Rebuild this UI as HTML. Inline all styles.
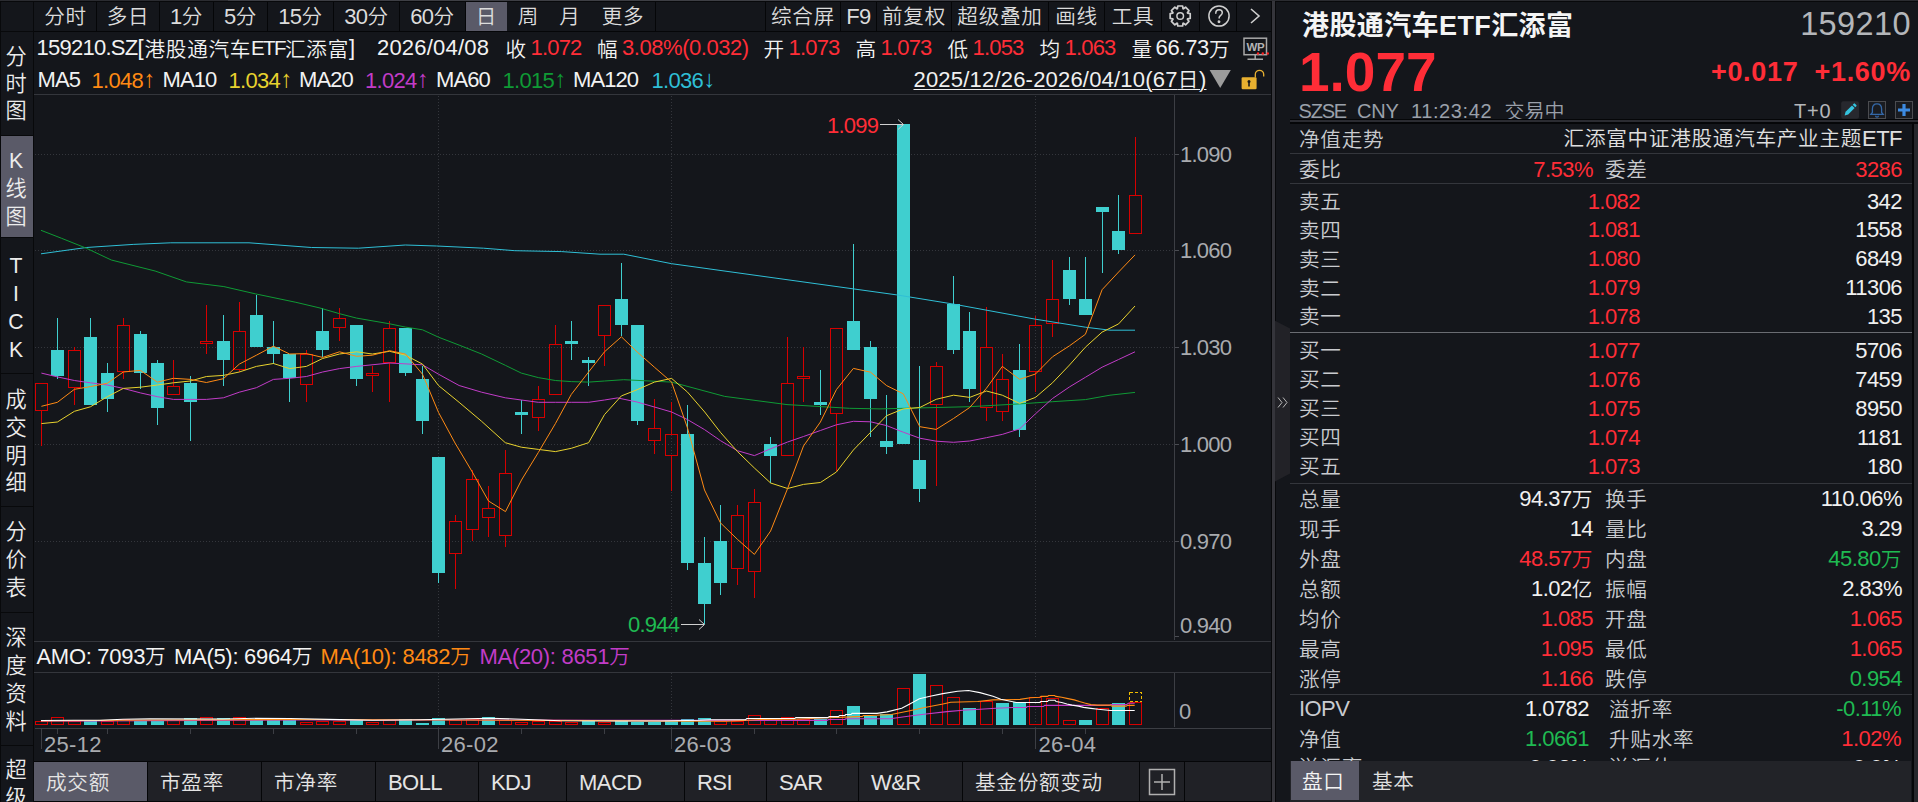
<!DOCTYPE html>
<html lang="zh-CN"><head><meta charset="utf-8"><title>159210 港股通汽车ETF汇添富</title>
<style>
html,body{margin:0;padding:0;background:#000;}
body{width:1918px;height:802px;overflow:hidden;position:relative;font-family:"Liberation Sans","Noto Sans CJK SC",sans-serif;color:#e6e6e6;font-size:21.33px;}
#app{position:absolute;left:0;top:0;width:1918px;height:802px;overflow:hidden;background:#08090b;}
.p{position:absolute;background:#14161b;}
.t{position:absolute;white-space:nowrap;line-height:28px;height:28px;}
.l{font-size:22px;letter-spacing:-0.55px}
.c{font-size:20.6px;letter-spacing:0.73px;font-weight:350}
.r{color:#ff2d37}.g{color:#1fba52}.w{color:#f2f2f2}.gy{color:#a9abaf}
.sb{position:absolute;left:1px;width:32px;background:#14161b;text-align:center;font-size:21.2px;font-weight:350;line-height:28px;color:#ececec;}
.sb span{display:block;position:absolute;left:-1px;width:32px;text-align:center;height:28px;}
.tab{position:absolute;top:2px;height:29px;line-height:29px;background:#14161b;text-align:center;color:#dcdcdc;}
.btab{position:absolute;top:762px;height:39px;line-height:41px;background:#202126;color:#e4e4e4;text-align:left;}
.sp{display:inline-block}
</style></head><body><div id="app">

<div style="position:absolute;left:0;top:0;width:1918px;height:1px;background:#2b2c31"></div><div style="position:absolute;left:228px;top:0;width:984px;height:1px;background:#3e3f45"></div>
<div class="p" style="left:34px;top:2px;width:1237px;height:800px"></div><div style="position:absolute;left:1272px;top:1px;width:3px;height:801px;background:#35353b"></div>
<div class="p" style="left:1276px;top:2px;width:642px;height:800px"></div>
<div class="sb" style="top:2px;height:29px;background:#14161b"></div>
<div class="sb" style="top:32px;height:103px;background:#14161b"><span style="top:11px">分</span><span style="top:38px">时</span><span style="top:65px">图</span></div>
<div class="sb" style="top:136px;height:101px;background:#5a5a68"><span style="top:11px">K</span><span style="top:39px">线</span><span style="top:67px">图</span></div>
<div class="sb" style="top:238px;height:135px;background:#14161b"><span style="top:14px">T</span><span style="top:42px">I</span><span style="top:70px">C</span><span style="top:98px">K</span></div>
<div class="sb" style="top:374px;height:132px;background:#14161b"><span style="top:12px">成</span><span style="top:40px">交</span><span style="top:68px">明</span><span style="top:95px">细</span></div>
<div class="sb" style="top:507px;height:105px;background:#14161b"><span style="top:11px">分</span><span style="top:39px">价</span><span style="top:67px">表</span></div>
<div class="sb" style="top:613px;height:132px;background:#14161b"><span style="top:11px">深</span><span style="top:39px">度</span><span style="top:67px">资</span><span style="top:95px">料</span></div>
<div class="sb" style="top:746px;height:56px;background:#14161b"><span style="top:10px">超</span><span style="top:38px">级</span></div>
<div class="tab c" style="left:35px;width:61px;background:#14161b">分时</div>
<div class="tab c" style="left:97px;width:62px;background:#14161b">多日</div>
<div class="tab l" style="left:160px;width:53px;background:#14161b">1<span class="c">分</span></div>
<div class="tab l" style="left:214px;width:53px;background:#14161b">5<span class="c">分</span></div>
<div class="tab l" style="left:268px;width:65px;background:#14161b">15<span class="c">分</span></div>
<div class="tab l" style="left:334px;width:65px;background:#14161b">30<span class="c">分</span></div>
<div class="tab l" style="left:400px;width:65px;background:#14161b">60<span class="c">分</span></div>
<div class="tab c" style="left:466px;width:41px;background:#5a5a68">日</div>
<div class="tab c" style="left:508px;width:41px;background:#14161b">周</div>
<div class="tab c" style="left:550px;width:40px;background:#14161b">月</div>
<div class="tab c" style="left:591px;width:64px;background:#14161b">更多</div>
<div style="position:absolute;left:96px;top:2px;width:1px;height:29px;background:#050608"></div>
<div style="position:absolute;left:159px;top:2px;width:1px;height:29px;background:#050608"></div>
<div style="position:absolute;left:213px;top:2px;width:1px;height:29px;background:#050608"></div>
<div style="position:absolute;left:267px;top:2px;width:1px;height:29px;background:#050608"></div>
<div style="position:absolute;left:333px;top:2px;width:1px;height:29px;background:#050608"></div>
<div style="position:absolute;left:399px;top:2px;width:1px;height:29px;background:#050608"></div>
<div style="position:absolute;left:465px;top:2px;width:1px;height:29px;background:#050608"></div>
<div style="position:absolute;left:655px;top:2px;width:1px;height:29px;background:#050608"></div>
<div class="tab c" style="left:766px;width:74px">综合屏</div>
<div class="tab l" style="left:841px;width:35px">F9</div>
<div class="tab c" style="left:877px;width:74px">前复权</div>
<div class="tab c" style="left:952px;width:96px">超级叠加</div>
<div class="tab c" style="left:1049px;width:55px">画线</div>
<div class="tab c" style="left:1105px;width:56px">工具</div>
<div style="position:absolute;left:765px;top:2px;width:1px;height:29px;background:#050608"></div>
<div style="position:absolute;left:840px;top:2px;width:1px;height:29px;background:#050608"></div>
<div style="position:absolute;left:876px;top:2px;width:1px;height:29px;background:#050608"></div>
<div style="position:absolute;left:951px;top:2px;width:1px;height:29px;background:#050608"></div>
<div style="position:absolute;left:1048px;top:2px;width:1px;height:29px;background:#050608"></div>
<div style="position:absolute;left:1104px;top:2px;width:1px;height:29px;background:#050608"></div>
<div style="position:absolute;left:1161px;top:2px;width:1px;height:29px;background:#050608"></div>
<svg style="position:absolute;left:1162px;top:2px" width="110" height="29" viewBox="0 0 110 29" fill="none" stroke="#cfcfcf" stroke-width="1.5">
<circle cx="18.2" cy="14" r="3.3"/><path d="M15.41 6.61 L15.80 3.98 L20.60 3.98 L20.99 6.61 L21.45 6.80 L23.58 5.22 L26.98 8.62 L25.40 10.75 L25.59 11.21 L28.22 11.60 L28.22 16.40 L25.59 16.79 L25.40 17.25 L26.98 19.38 L23.58 22.78 L21.45 21.20 L20.99 21.39 L20.60 24.02 L15.80 24.02 L15.41 21.39 L14.95 21.20 L12.82 22.78 L9.42 19.38 L11.00 17.25 L10.81 16.79 L8.18 16.40 L8.18 11.60 L10.81 11.21 L11.00 10.75 L9.42 8.62 L12.82 5.22 L14.95 6.80Z" stroke-linejoin="round" stroke-width="1.7"/>
<g transform="translate(57,14)"><circle r="10.1"/><path d="M-3.2-2.8c0-2.200 1.400-3.400 3.300-3.400s3.200 1.200 3.200 2.900c0 2.600-3.200 2.600-3.200 5.200" stroke-linecap="round"/><circle cy="5.800" r="0.700" fill="#cfcfcf"/></g>
<path d="M89 7l8 7-8 7" stroke-width="1.600"/>
</svg>
<div style="position:absolute;left:1199px;top:2px;width:1px;height:29px;background:#050608"></div>
<div style="position:absolute;left:1236px;top:2px;width:1px;height:29px;background:#050608"></div>
<div style="position:absolute;left:34px;top:31px;width:1237px;height:1px;background:#050608"></div>
<div class="t l w" style="left:36.5px;top:33.8px;letter-spacing:-0.75px;">159210.SZ[</div>
<div class="t c w" style="left:144.5px;top:35.8px;">港股通汽车</div>
<div class="t l w" style="left:251px;top:33.8px;font-size:20.5px;letter-spacing:-1.6px">ETF</div>
<div class="t l w" style="left:285px;top:33.8px;letter-spacing:-2px;"><span class="c" style="position:relative;top:2px">汇添富</span>]</div>
<div class="t l w" style="left:377px;top:33.8px;letter-spacing:0.2px;">2026/04/08</div>
<div class="t c w" style="left:505.5px;top:35.8px;">收</div>
<div class="t l r" style="left:530.5px;top:33.8px;letter-spacing:-0.8px;">1.072</div>
<div class="t c w" style="left:763.5px;top:35.8px;">开</div>
<div class="t l r" style="left:788.5px;top:33.8px;letter-spacing:-0.8px;">1.073</div>
<div class="t c w" style="left:855.5px;top:35.8px;">高</div>
<div class="t l r" style="left:880.5px;top:33.8px;letter-spacing:-0.8px;">1.073</div>
<div class="t c w" style="left:947.5px;top:35.8px;">低</div>
<div class="t l r" style="left:972.5px;top:33.8px;letter-spacing:-0.8px;">1.053</div>
<div class="t c w" style="left:1039.5px;top:35.8px;">均</div>
<div class="t l r" style="left:1064.5px;top:33.8px;letter-spacing:-0.8px;">1.063</div>
<div class="t c w" style="left:597px;top:35.8px;">幅</div>
<div class="t l r" style="left:622px;top:33.8px;letter-spacing:-0.45px;">3.08%(0.032)</div>
<div class="t c w" style="left:1131.5px;top:35.8px;">量</div>
<div class="t l w" style="left:1155.5px;top:33.8px;letter-spacing:-0.3px;">66.73<span class="c" style="position:relative;top:2px">万</span></div>
<div class="t l w" style="left:37.5px;top:66px;letter-spacing:-0.9px;">MA5</div>
<div class="t l" style="left:91.5px;top:66px;color:#ff8a14;letter-spacing:-0.7px">1.048<span class="sp" style="width:12px;text-align:center;font-size:24px;position:relative;top:-1px">↑</span></div>
<div class="t l w" style="left:162.5px;top:66px;letter-spacing:-0.9px;">MA10</div>
<div class="t l" style="left:228.5px;top:66px;color:#e8d22e;letter-spacing:-0.7px">1.034<span class="sp" style="width:12px;text-align:center;font-size:24px;position:relative;top:-1px">↑</span></div>
<div class="t l w" style="left:299px;top:66px;letter-spacing:-0.9px;">MA20</div>
<div class="t l" style="left:365px;top:66px;color:#c23cc8;letter-spacing:-0.7px">1.024<span class="sp" style="width:12px;text-align:center;font-size:24px;position:relative;top:-1px">↑</span></div>
<div class="t l w" style="left:436px;top:66px;letter-spacing:-0.9px;">MA60</div>
<div class="t l" style="left:502.5px;top:66px;color:#0f9a35;letter-spacing:-0.7px">1.015<span class="sp" style="width:12px;text-align:center;font-size:24px;position:relative;top:-1px">↑</span></div>
<div class="t l w" style="left:573px;top:66px;letter-spacing:-0.9px;">MA120</div>
<div class="t l" style="left:651.5px;top:66px;color:#2fbfd6;letter-spacing:-0.7px">1.036<span class="sp" style="width:12px;text-align:center;font-size:24px;position:relative;top:-1px">↓</span></div>
<div class="t l" style="left:913.5px;top:66px;color:#f0f0f0;text-decoration:underline;text-decoration-thickness:1px;text-underline-offset:1.5px;letter-spacing:0.2px">2025/12/26-2026/04/10(67<span class="c">日</span>)</div>
<svg style="position:absolute;left:1209px;top:69px" width="24" height="22"><path d="M0.600 1h21.200l-10.600 18z" fill="#9c9c9c"/></svg>
<svg style="position:absolute;left:1240px;top:34px" width="32" height="62" viewBox="0 0 32 62" fill="none">
<rect x="4" y="4.200" width="22.500" height="16.500" stroke="#a8a8a8" stroke-width="1.500"/><path d="M15.200 21v4M7.500 25.200h15.500" stroke="#a8a8a8" stroke-width="1.500"/>
<text x="15.300" y="17" font-family="Liberation Sans,sans-serif" font-weight="bold" font-size="11.500" fill="#b4b4b4" text-anchor="middle" letter-spacing="-0.500">WP</text>
<circle cx="18" cy="19.500" r="1.200" fill="#ff2020"/><circle cx="22.800" cy="19.500" r="1.200" fill="#ff2020"/><circle cx="27.800" cy="19.500" r="1.200" fill="#ff2020"/>
<rect x="1.600" y="43.300" width="15" height="12" rx="1.200" fill="#e8b030"/><path d="M15.300 43.500v-3a4.200 4.200 0 0 1 8.400 0v2" stroke="#e8b030" stroke-width="1.300"/><circle cx="9" cy="47.500" r="1.500" fill="#1a1a1a"/><rect x="8.200" y="47.500" width="1.600" height="5" fill="#1a1a1a"/>
</svg>
<div style="position:absolute;left:34px;top:94px;width:1237px;height:1px;background:#34363c"></div>
<svg id="chart" width="1918" height="802" viewBox="0 0 1918 802" style="position:absolute;left:0;top:0" shape-rendering="crispEdges">
<line x1="35" y1="154.5" x2="1174" y2="154.5" stroke="#34363c" stroke-width="1" stroke-dasharray="1 2"/>
<line x1="1175" y1="154.5" x2="1179" y2="154.5" stroke="#4a4c52" stroke-width="1"/>
<line x1="35" y1="250.5" x2="1174" y2="250.5" stroke="#34363c" stroke-width="1" stroke-dasharray="1 2"/>
<line x1="1175" y1="250.5" x2="1179" y2="250.5" stroke="#4a4c52" stroke-width="1"/>
<line x1="35" y1="347.5" x2="1174" y2="347.5" stroke="#34363c" stroke-width="1" stroke-dasharray="1 2"/>
<line x1="1175" y1="347.5" x2="1179" y2="347.5" stroke="#4a4c52" stroke-width="1"/>
<line x1="35" y1="444.5" x2="1174" y2="444.5" stroke="#34363c" stroke-width="1" stroke-dasharray="1 2"/>
<line x1="1175" y1="444.5" x2="1179" y2="444.5" stroke="#4a4c52" stroke-width="1"/>
<line x1="35" y1="541.5" x2="1174" y2="541.5" stroke="#34363c" stroke-width="1" stroke-dasharray="1 2"/>
<line x1="1175" y1="541.5" x2="1179" y2="541.5" stroke="#4a4c52" stroke-width="1"/>
<line x1="438.5" y1="96" x2="438.5" y2="638" stroke="#34363c" stroke-width="1" stroke-dasharray="1 2"/>
<line x1="438.5" y1="673" x2="438.5" y2="728" stroke="#34363c" stroke-width="1" stroke-dasharray="1 2"/>
<line x1="671.5" y1="96" x2="671.5" y2="638" stroke="#34363c" stroke-width="1" stroke-dasharray="1 2"/>
<line x1="671.5" y1="673" x2="671.5" y2="728" stroke="#34363c" stroke-width="1" stroke-dasharray="1 2"/>
<line x1="1035.5" y1="96" x2="1035.5" y2="638" stroke="#34363c" stroke-width="1" stroke-dasharray="1 2"/>
<line x1="1035.5" y1="673" x2="1035.5" y2="728" stroke="#34363c" stroke-width="1" stroke-dasharray="1 2"/>
<line x1="1174.5" y1="95" x2="1174.5" y2="640" stroke="#3c3e44" stroke-width="1"/>
<line x1="1174.5" y1="673" x2="1174.5" y2="727" stroke="#3c3e44" stroke-width="1"/>
<line x1="1175" y1="636.5" x2="1179" y2="636.5" stroke="#4a4c52" stroke-width="1"/>
<line x1="41.5" y1="411" x2="41.5" y2="446" stroke="#d60000" stroke-width="1"/>
<rect x="35.5" y="383.5" width="12" height="27" fill="none" stroke="#d60000" stroke-width="1"/>
<line x1="57.5" y1="318" x2="57.5" y2="379" stroke="#3fcfcf" stroke-width="1"/>
<rect x="51" y="350" width="13" height="26" fill="#3fcfcf"/>
<line x1="74.5" y1="347" x2="74.5" y2="350" stroke="#d60000" stroke-width="1"/>
<line x1="74.5" y1="388" x2="74.5" y2="405" stroke="#d60000" stroke-width="1"/>
<rect x="68.5" y="350.5" width="12" height="37" fill="none" stroke="#d60000" stroke-width="1"/>
<line x1="90.5" y1="318" x2="90.5" y2="405" stroke="#3fcfcf" stroke-width="1"/>
<rect x="84" y="337" width="13" height="68" fill="#3fcfcf"/>
<line x1="107.5" y1="363" x2="107.5" y2="412" stroke="#3fcfcf" stroke-width="1"/>
<rect x="101" y="373" width="13" height="26" fill="#3fcfcf"/>
<line x1="123.5" y1="318" x2="123.5" y2="325" stroke="#d60000" stroke-width="1"/>
<line x1="123.5" y1="372" x2="123.5" y2="379" stroke="#d60000" stroke-width="1"/>
<rect x="117.5" y="325.5" width="12" height="46" fill="none" stroke="#d60000" stroke-width="1"/>
<line x1="140.5" y1="331" x2="140.5" y2="389" stroke="#3fcfcf" stroke-width="1"/>
<rect x="134" y="334" width="13" height="39" fill="#3fcfcf"/>
<line x1="157.5" y1="360" x2="157.5" y2="425" stroke="#3fcfcf" stroke-width="1"/>
<rect x="151" y="363" width="13" height="45" fill="#3fcfcf"/>
<line x1="173.5" y1="360" x2="173.5" y2="386" stroke="#d60000" stroke-width="1"/>
<rect x="167.5" y="386.5" width="12" height="8" fill="none" stroke="#d60000" stroke-width="1"/>
<line x1="190.5" y1="376" x2="190.5" y2="441" stroke="#3fcfcf" stroke-width="1"/>
<rect x="184" y="383" width="13" height="19" fill="#3fcfcf"/>
<line x1="206.5" y1="305" x2="206.5" y2="341" stroke="#d60000" stroke-width="1"/>
<line x1="206.5" y1="344" x2="206.5" y2="354" stroke="#d60000" stroke-width="1"/>
<rect x="200.5" y="341.5" width="12" height="2" fill="none" stroke="#d60000" stroke-width="1"/>
<line x1="223.5" y1="315" x2="223.5" y2="386" stroke="#3fcfcf" stroke-width="1"/>
<rect x="217" y="341" width="13" height="19" fill="#3fcfcf"/>
<line x1="239.5" y1="302" x2="239.5" y2="331" stroke="#d60000" stroke-width="1"/>
<line x1="239.5" y1="370" x2="239.5" y2="372" stroke="#d60000" stroke-width="1"/>
<rect x="233.5" y="331.5" width="12" height="38" fill="none" stroke="#d60000" stroke-width="1"/>
<line x1="256.5" y1="295" x2="256.5" y2="347" stroke="#3fcfcf" stroke-width="1"/>
<rect x="250" y="315" width="13" height="32" fill="#3fcfcf"/>
<line x1="273.5" y1="321" x2="273.5" y2="364" stroke="#3fcfcf" stroke-width="1"/>
<rect x="267" y="347" width="13" height="7" fill="#3fcfcf"/>
<line x1="289.5" y1="354" x2="289.5" y2="402" stroke="#3fcfcf" stroke-width="1"/>
<rect x="283" y="354" width="13" height="24" fill="#3fcfcf"/>
<line x1="306.5" y1="350" x2="306.5" y2="354" stroke="#d60000" stroke-width="1"/>
<line x1="306.5" y1="385" x2="306.5" y2="402" stroke="#d60000" stroke-width="1"/>
<rect x="300.5" y="354.5" width="12" height="30" fill="none" stroke="#d60000" stroke-width="1"/>
<line x1="322.5" y1="308" x2="322.5" y2="357" stroke="#3fcfcf" stroke-width="1"/>
<rect x="316" y="331" width="13" height="19" fill="#3fcfcf"/>
<line x1="339.5" y1="308" x2="339.5" y2="318" stroke="#d60000" stroke-width="1"/>
<line x1="339.5" y1="328" x2="339.5" y2="341" stroke="#d60000" stroke-width="1"/>
<rect x="333.5" y="318.5" width="12" height="9" fill="none" stroke="#d60000" stroke-width="1"/>
<line x1="356.5" y1="325" x2="356.5" y2="386" stroke="#3fcfcf" stroke-width="1"/>
<rect x="350" y="325" width="13" height="54" fill="#3fcfcf"/>
<line x1="372.5" y1="366" x2="372.5" y2="373" stroke="#d60000" stroke-width="1"/>
<line x1="372.5" y1="376" x2="372.5" y2="392" stroke="#d60000" stroke-width="1"/>
<rect x="366.5" y="373.5" width="12" height="2" fill="none" stroke="#d60000" stroke-width="1"/>
<line x1="389.5" y1="321" x2="389.5" y2="328" stroke="#d60000" stroke-width="1"/>
<line x1="389.5" y1="363" x2="389.5" y2="402" stroke="#d60000" stroke-width="1"/>
<rect x="383.5" y="328.5" width="12" height="34" fill="none" stroke="#d60000" stroke-width="1"/>
<line x1="405.5" y1="328" x2="405.5" y2="376" stroke="#3fcfcf" stroke-width="1"/>
<rect x="399" y="328" width="13" height="45" fill="#3fcfcf"/>
<line x1="422.5" y1="366" x2="422.5" y2="434" stroke="#3fcfcf" stroke-width="1"/>
<rect x="416" y="379" width="13" height="42" fill="#3fcfcf"/>
<line x1="438.5" y1="457" x2="438.5" y2="583" stroke="#3fcfcf" stroke-width="1"/>
<rect x="432" y="457" width="13" height="116" fill="#3fcfcf"/>
<line x1="455.5" y1="515" x2="455.5" y2="521" stroke="#d60000" stroke-width="1"/>
<line x1="455.5" y1="554" x2="455.5" y2="589" stroke="#d60000" stroke-width="1"/>
<rect x="449.5" y="521.5" width="12" height="32" fill="none" stroke="#d60000" stroke-width="1"/>
<line x1="472.5" y1="470" x2="472.5" y2="479" stroke="#d60000" stroke-width="1"/>
<line x1="472.5" y1="530" x2="472.5" y2="541" stroke="#d60000" stroke-width="1"/>
<rect x="466.5" y="479.5" width="12" height="50" fill="none" stroke="#d60000" stroke-width="1"/>
<line x1="488.5" y1="486" x2="488.5" y2="508" stroke="#d60000" stroke-width="1"/>
<line x1="488.5" y1="518" x2="488.5" y2="537" stroke="#d60000" stroke-width="1"/>
<rect x="482.5" y="508.5" width="12" height="9" fill="none" stroke="#d60000" stroke-width="1"/>
<line x1="505.5" y1="450" x2="505.5" y2="473" stroke="#d60000" stroke-width="1"/>
<line x1="505.5" y1="536" x2="505.5" y2="547" stroke="#d60000" stroke-width="1"/>
<rect x="499.5" y="473.5" width="12" height="62" fill="none" stroke="#d60000" stroke-width="1"/>
<line x1="521.5" y1="400" x2="521.5" y2="434" stroke="#3fcfcf" stroke-width="1"/>
<rect x="515" y="412" width="13" height="3" fill="#3fcfcf"/>
<line x1="538.5" y1="386" x2="538.5" y2="399" stroke="#d60000" stroke-width="1"/>
<line x1="538.5" y1="418" x2="538.5" y2="431" stroke="#d60000" stroke-width="1"/>
<rect x="532.5" y="399.5" width="12" height="18" fill="none" stroke="#d60000" stroke-width="1"/>
<line x1="555.5" y1="325" x2="555.5" y2="344" stroke="#d60000" stroke-width="1"/>
<rect x="549.5" y="344.5" width="12" height="50" fill="none" stroke="#d60000" stroke-width="1"/>
<line x1="571.5" y1="321" x2="571.5" y2="360" stroke="#3fcfcf" stroke-width="1"/>
<rect x="565" y="341" width="13" height="3" fill="#3fcfcf"/>
<line x1="588.5" y1="357" x2="588.5" y2="386" stroke="#3fcfcf" stroke-width="1"/>
<rect x="582" y="360" width="13" height="3" fill="#3fcfcf"/>
<line x1="604.5" y1="336" x2="604.5" y2="366" stroke="#d60000" stroke-width="1"/>
<rect x="598.5" y="305.5" width="12" height="30" fill="none" stroke="#d60000" stroke-width="1"/>
<line x1="621.5" y1="263" x2="621.5" y2="336" stroke="#3fcfcf" stroke-width="1"/>
<rect x="615" y="299" width="13" height="26" fill="#3fcfcf"/>
<line x1="637.5" y1="325" x2="637.5" y2="425" stroke="#3fcfcf" stroke-width="1"/>
<rect x="631" y="325" width="13" height="96" fill="#3fcfcf"/>
<line x1="654.5" y1="399" x2="654.5" y2="428" stroke="#d60000" stroke-width="1"/>
<line x1="654.5" y1="441" x2="654.5" y2="454" stroke="#d60000" stroke-width="1"/>
<rect x="648.5" y="428.5" width="12" height="12" fill="none" stroke="#d60000" stroke-width="1"/>
<line x1="671.5" y1="402" x2="671.5" y2="434" stroke="#d60000" stroke-width="1"/>
<line x1="671.5" y1="456" x2="671.5" y2="491" stroke="#d60000" stroke-width="1"/>
<rect x="665.5" y="434.5" width="12" height="21" fill="none" stroke="#d60000" stroke-width="1"/>
<line x1="687.5" y1="405" x2="687.5" y2="570" stroke="#3fcfcf" stroke-width="1"/>
<rect x="681" y="434" width="13" height="129" fill="#3fcfcf"/>
<line x1="704.5" y1="537" x2="704.5" y2="624" stroke="#3fcfcf" stroke-width="1"/>
<rect x="698" y="563" width="13" height="41" fill="#3fcfcf"/>
<line x1="720.5" y1="505" x2="720.5" y2="595" stroke="#3fcfcf" stroke-width="1"/>
<rect x="714" y="541" width="13" height="42" fill="#3fcfcf"/>
<line x1="737.5" y1="505" x2="737.5" y2="515" stroke="#d60000" stroke-width="1"/>
<line x1="737.5" y1="569" x2="737.5" y2="585" stroke="#d60000" stroke-width="1"/>
<rect x="731.5" y="515.5" width="12" height="53" fill="none" stroke="#d60000" stroke-width="1"/>
<line x1="754.5" y1="489" x2="754.5" y2="502" stroke="#d60000" stroke-width="1"/>
<line x1="754.5" y1="572" x2="754.5" y2="598" stroke="#d60000" stroke-width="1"/>
<rect x="748.5" y="502.5" width="12" height="69" fill="none" stroke="#d60000" stroke-width="1"/>
<line x1="770.5" y1="437" x2="770.5" y2="483" stroke="#3fcfcf" stroke-width="1"/>
<rect x="764" y="444" width="13" height="12" fill="#3fcfcf"/>
<line x1="787.5" y1="337" x2="787.5" y2="383" stroke="#d60000" stroke-width="1"/>
<rect x="781.5" y="383.5" width="12" height="72" fill="none" stroke="#d60000" stroke-width="1"/>
<line x1="803.5" y1="347" x2="803.5" y2="376" stroke="#d60000" stroke-width="1"/>
<line x1="803.5" y1="379" x2="803.5" y2="402" stroke="#d60000" stroke-width="1"/>
<rect x="797.5" y="376.5" width="12" height="2" fill="none" stroke="#d60000" stroke-width="1"/>
<line x1="820.5" y1="370" x2="820.5" y2="415" stroke="#3fcfcf" stroke-width="1"/>
<rect x="814" y="402" width="13" height="3" fill="#3fcfcf"/>
<line x1="836.5" y1="414" x2="836.5" y2="471" stroke="#d60000" stroke-width="1"/>
<rect x="830.5" y="328.5" width="12" height="85" fill="none" stroke="#d60000" stroke-width="1"/>
<line x1="853.5" y1="244" x2="853.5" y2="350" stroke="#3fcfcf" stroke-width="1"/>
<rect x="847" y="321" width="13" height="29" fill="#3fcfcf"/>
<line x1="870.5" y1="341" x2="870.5" y2="437" stroke="#3fcfcf" stroke-width="1"/>
<rect x="864" y="347" width="13" height="52" fill="#3fcfcf"/>
<line x1="886.5" y1="395" x2="886.5" y2="454" stroke="#3fcfcf" stroke-width="1"/>
<rect x="880" y="441" width="13" height="6" fill="#3fcfcf"/>
<line x1="903.5" y1="124" x2="903.5" y2="444" stroke="#3fcfcf" stroke-width="1"/>
<rect x="897" y="124" width="13" height="320" fill="#3fcfcf"/>
<line x1="919.5" y1="366" x2="919.5" y2="502" stroke="#3fcfcf" stroke-width="1"/>
<rect x="913" y="460" width="13" height="29" fill="#3fcfcf"/>
<line x1="936.5" y1="362" x2="936.5" y2="366" stroke="#d60000" stroke-width="1"/>
<line x1="936.5" y1="405" x2="936.5" y2="486" stroke="#d60000" stroke-width="1"/>
<rect x="930.5" y="366.5" width="12" height="38" fill="none" stroke="#d60000" stroke-width="1"/>
<line x1="953.5" y1="276" x2="953.5" y2="354" stroke="#3fcfcf" stroke-width="1"/>
<rect x="947" y="304" width="13" height="46" fill="#3fcfcf"/>
<line x1="969.5" y1="312" x2="969.5" y2="402" stroke="#3fcfcf" stroke-width="1"/>
<rect x="963" y="331" width="13" height="58" fill="#3fcfcf"/>
<line x1="986.5" y1="307" x2="986.5" y2="347" stroke="#d60000" stroke-width="1"/>
<line x1="986.5" y1="408" x2="986.5" y2="421" stroke="#d60000" stroke-width="1"/>
<rect x="980.5" y="347.5" width="12" height="60" fill="none" stroke="#d60000" stroke-width="1"/>
<line x1="1002.5" y1="354" x2="1002.5" y2="379" stroke="#d60000" stroke-width="1"/>
<line x1="1002.5" y1="412" x2="1002.5" y2="421" stroke="#d60000" stroke-width="1"/>
<rect x="996.5" y="379.5" width="12" height="32" fill="none" stroke="#d60000" stroke-width="1"/>
<line x1="1019.5" y1="344" x2="1019.5" y2="437" stroke="#3fcfcf" stroke-width="1"/>
<rect x="1013" y="370" width="13" height="60" fill="#3fcfcf"/>
<line x1="1035.5" y1="316" x2="1035.5" y2="325" stroke="#d60000" stroke-width="1"/>
<line x1="1035.5" y1="372" x2="1035.5" y2="392" stroke="#d60000" stroke-width="1"/>
<rect x="1029.5" y="325.5" width="12" height="46" fill="none" stroke="#d60000" stroke-width="1"/>
<line x1="1052.5" y1="260" x2="1052.5" y2="299" stroke="#d60000" stroke-width="1"/>
<line x1="1052.5" y1="324" x2="1052.5" y2="337" stroke="#d60000" stroke-width="1"/>
<rect x="1046.5" y="299.5" width="12" height="24" fill="none" stroke="#d60000" stroke-width="1"/>
<line x1="1069.5" y1="257" x2="1069.5" y2="305" stroke="#3fcfcf" stroke-width="1"/>
<rect x="1063" y="270" width="13" height="29" fill="#3fcfcf"/>
<line x1="1085.5" y1="257" x2="1085.5" y2="315" stroke="#3fcfcf" stroke-width="1"/>
<rect x="1079" y="299" width="13" height="16" fill="#3fcfcf"/>
<line x1="1102.5" y1="207" x2="1102.5" y2="273" stroke="#3fcfcf" stroke-width="1"/>
<rect x="1096" y="207" width="13" height="5" fill="#3fcfcf"/>
<line x1="1118.5" y1="195" x2="1118.5" y2="254" stroke="#3fcfcf" stroke-width="1"/>
<rect x="1112" y="231" width="13" height="19" fill="#3fcfcf"/>
<line x1="1135.5" y1="137" x2="1135.5" y2="195" stroke="#d60000" stroke-width="1"/>
<rect x="1129.5" y="195.5" width="12" height="38" fill="none" stroke="#d60000" stroke-width="1"/>
<rect x="35.5" y="721.5" width="12" height="3" fill="none" stroke="#d60000" stroke-width="1"/>
<rect x="51.5" y="717.5" width="12" height="7" fill="none" stroke="#d60000" stroke-width="1"/>
<rect x="68.5" y="721.5" width="12" height="3" fill="none" stroke="#d60000" stroke-width="1"/>
<rect x="84" y="721" width="13" height="4" fill="#3fcfcf"/>
<rect x="101.5" y="721.5" width="12" height="3" fill="none" stroke="#d60000" stroke-width="1"/>
<rect x="117.5" y="719.5" width="12" height="5" fill="none" stroke="#d60000" stroke-width="1"/>
<rect x="134" y="721" width="13" height="4" fill="#3fcfcf"/>
<rect x="151" y="721" width="13" height="4" fill="#3fcfcf"/>
<rect x="167.5" y="720.5" width="12" height="4" fill="none" stroke="#d60000" stroke-width="1"/>
<rect x="184" y="718" width="13" height="7" fill="#3fcfcf"/>
<rect x="200.5" y="717.5" width="12" height="7" fill="none" stroke="#d60000" stroke-width="1"/>
<rect x="217" y="718" width="13" height="7" fill="#3fcfcf"/>
<rect x="233.5" y="717.5" width="12" height="7" fill="none" stroke="#d60000" stroke-width="1"/>
<rect x="250" y="720" width="13" height="5" fill="#3fcfcf"/>
<rect x="267" y="720" width="13" height="5" fill="#3fcfcf"/>
<rect x="283" y="720" width="13" height="5" fill="#3fcfcf"/>
<rect x="300.5" y="722.5" width="12" height="2" fill="none" stroke="#d60000" stroke-width="1"/>
<rect x="316.5" y="721.5" width="12" height="3" fill="none" stroke="#d60000" stroke-width="1"/>
<rect x="333.5" y="721.5" width="12" height="3" fill="none" stroke="#d60000" stroke-width="1"/>
<rect x="350" y="720" width="13" height="5" fill="#3fcfcf"/>
<rect x="366.5" y="722.5" width="12" height="2" fill="none" stroke="#d60000" stroke-width="1"/>
<rect x="383.5" y="720.5" width="12" height="4" fill="none" stroke="#d60000" stroke-width="1"/>
<rect x="399" y="719" width="13" height="6" fill="#3fcfcf"/>
<rect x="416" y="723" width="13" height="2" fill="#3fcfcf"/>
<rect x="432" y="718" width="13" height="7" fill="#3fcfcf"/>
<rect x="449.5" y="720.5" width="12" height="4" fill="none" stroke="#d60000" stroke-width="1"/>
<rect x="466.5" y="719.5" width="12" height="5" fill="none" stroke="#d60000" stroke-width="1"/>
<rect x="482" y="717" width="13" height="8" fill="#3fcfcf"/>
<rect x="499.5" y="720.5" width="12" height="4" fill="none" stroke="#d60000" stroke-width="1"/>
<rect x="515.5" y="722.5" width="12" height="2" fill="none" stroke="#d60000" stroke-width="1"/>
<rect x="532.5" y="721.5" width="12" height="3" fill="none" stroke="#d60000" stroke-width="1"/>
<rect x="549.5" y="721.5" width="12" height="3" fill="none" stroke="#d60000" stroke-width="1"/>
<rect x="565.5" y="722.5" width="12" height="2" fill="none" stroke="#d60000" stroke-width="1"/>
<rect x="582" y="721" width="13" height="4" fill="#3fcfcf"/>
<rect x="598.5" y="722.5" width="12" height="2" fill="none" stroke="#d60000" stroke-width="1"/>
<rect x="615" y="721" width="13" height="4" fill="#3fcfcf"/>
<rect x="631" y="722" width="13" height="3" fill="#3fcfcf"/>
<rect x="648" y="722" width="13" height="3" fill="#3fcfcf"/>
<rect x="665" y="721" width="13" height="4" fill="#3fcfcf"/>
<rect x="681" y="719" width="13" height="6" fill="#3fcfcf"/>
<rect x="698" y="718" width="13" height="7" fill="#3fcfcf"/>
<rect x="714.5" y="721.5" width="12" height="3" fill="none" stroke="#d60000" stroke-width="1"/>
<rect x="731.5" y="721.5" width="12" height="3" fill="none" stroke="#d60000" stroke-width="1"/>
<rect x="748.5" y="715.5" width="12" height="9" fill="none" stroke="#d60000" stroke-width="1"/>
<rect x="764.5" y="720.5" width="12" height="4" fill="none" stroke="#d60000" stroke-width="1"/>
<rect x="781.5" y="717.5" width="12" height="7" fill="none" stroke="#d60000" stroke-width="1"/>
<rect x="797.5" y="719.5" width="12" height="5" fill="none" stroke="#d60000" stroke-width="1"/>
<rect x="814" y="719" width="13" height="6" fill="#3fcfcf"/>
<rect x="830.5" y="710.5" width="12" height="14" fill="none" stroke="#d60000" stroke-width="1"/>
<rect x="847" y="706" width="13" height="19" fill="#3fcfcf"/>
<rect x="864" y="716" width="13" height="9" fill="#3fcfcf"/>
<rect x="880" y="714" width="13" height="11" fill="#3fcfcf"/>
<rect x="897.5" y="688.5" width="12" height="36" fill="none" stroke="#d60000" stroke-width="1"/>
<rect x="913" y="674" width="13" height="51" fill="#3fcfcf"/>
<rect x="930.5" y="685.5" width="12" height="39" fill="none" stroke="#d60000" stroke-width="1"/>
<rect x="947.5" y="697.5" width="12" height="27" fill="none" stroke="#d60000" stroke-width="1"/>
<rect x="963" y="708" width="13" height="17" fill="#3fcfcf"/>
<rect x="980.5" y="701.5" width="12" height="23" fill="none" stroke="#d60000" stroke-width="1"/>
<rect x="996" y="703" width="13" height="22" fill="#3fcfcf"/>
<rect x="1013" y="702" width="13" height="23" fill="#3fcfcf"/>
<rect x="1029.5" y="697.5" width="12" height="27" fill="none" stroke="#d60000" stroke-width="1"/>
<rect x="1046.5" y="698.5" width="12" height="26" fill="none" stroke="#d60000" stroke-width="1"/>
<rect x="1063.5" y="720.5" width="12" height="4" fill="none" stroke="#d60000" stroke-width="1"/>
<rect x="1079" y="720" width="13" height="5" fill="#3fcfcf"/>
<rect x="1096.5" y="708.5" width="12" height="16" fill="none" stroke="#d60000" stroke-width="1"/>
<rect x="1112" y="703" width="13" height="22" fill="#3fcfcf"/>
<rect x="1129.5" y="702.5" width="12" height="22" fill="none" stroke="#d60000" stroke-width="1"/>
</svg>
<svg width="1918" height="802" viewBox="0 0 1918 802" style="position:absolute;left:0;top:0" fill="none" stroke-width="1" stroke-linejoin="round">
<polyline points="41.0,253.8 86.3,247.5 133.2,244.4 170.8,242.8 249.0,242.8 311.5,247.5 358.4,248.2 405.3,245.0 436.6,246.0 483.5,248.2 514.8,250.7 561.7,251.6 600.0,254.2 623.7,254.2 671.6,263.7 896.8,294.9 953.5,304.1 1035.5,319.2 1085.4,327.2 1110.0,330.2 1135.0,330.2" stroke="#2fbfd6"/>
<polyline points="41.0,230.3 61.3,238.2 86.3,248.2 111.3,260.0 155.1,271.0 186.4,281.9 223.9,286.6 255.2,293.8 295.9,302.3 320.0,308.0 339.5,313.7 356.6,318.1 389.6,323.8 405.5,327.1 422.5,329.8 438.5,337.2 459.1,345.1 481.6,354.0 505.3,365.3 521.3,373.1 538.3,377.6 555.4,380.5 571.3,381.6 588.6,382.1 604.5,381.0 623.7,379.7 671.6,382.1 724.7,396.4 787.0,404.6 849.4,408.3 880.0,408.9 969.7,406.7 1019.6,403.9 1052.5,401.7 1085.4,399.6 1110.0,395.2 1135.0,392.4" stroke="#0f9a35"/>
<polyline points="41.4,373.1 57.4,376.9 74.4,380.5 90.4,382.8 107.4,385.0 123.3,388.4 140.4,392.9 157.4,396.7 173.4,399.4 190.4,399.4 206.4,399.4 223.4,397.8 239.3,392.2 256.4,387.7 273.4,379.4 289.6,378.3 306.4,376.5 322.6,372.0 339.5,368.6 356.6,366.4 389.6,363.0 422.5,364.8 438.5,374.2 459.1,385.5 481.6,392.2 505.3,397.8 521.3,400.0 538.3,402.3 555.4,402.3 571.3,402.3 588.6,402.3 604.5,400.0 617.5,397.9 637.4,402.1 654.4,407.0 671.6,412.0 687.5,419.6 704.5,429.6 720.4,440.6 737.4,450.7 754.4,455.6 770.6,448.8 787.6,442.0 803.5,436.5 820.4,430.5 836.4,424.8 853.4,421.3 870.6,421.8 886.6,425.6 903.3,432.2 919.8,438.2 936.2,441.2 953.5,442.3 969.7,441.0 986.4,437.7 1002.3,434.4 1019.6,428.9 1035.5,413.8 1052.5,398.5 1069.5,386.9 1085.4,377.3 1102.1,367.2 1118.6,359.5 1135.0,351.8" stroke="#c23cc8"/>
<polyline points="41.4,423.6 57.4,422.0 74.4,411.3 90.4,406.8 107.4,396.7 123.3,388.4 140.4,387.2 157.4,385.0 173.4,382.8 190.4,381.0 206.4,376.5 223.4,375.4 239.3,372.0 256.4,366.4 273.4,363.5 289.6,368.6 306.4,366.4 322.6,358.5 339.5,354.0 356.6,351.8 372.3,354.0 389.6,351.3 405.5,355.2 422.5,364.1 438.5,385.5 459.1,402.3 481.6,421.3 505.3,442.7 521.3,447.2 538.3,449.4 555.4,451.6 571.3,448.3 588.6,442.7 604.5,414.6 621.4,395.9 637.4,389.6 654.4,382.1 671.6,378.4 687.5,392.1 704.7,412.0 720.4,432.3 737.4,451.5 754.4,468.0 770.6,483.0 787.6,488.5 803.5,484.4 820.4,482.5 836.4,472.0 853.4,450.0 870.6,432.3 886.6,415.7 903.3,408.9 919.8,407.5 936.2,399.3 953.5,395.2 969.7,397.4 986.4,391.0 1002.3,395.2 1019.6,403.4 1035.5,397.4 1052.5,382.8 1069.5,365.0 1085.4,347.2 1102.1,332.1 1118.6,323.9 1135.0,306.0" stroke="#e8d22e"/>
<polyline points="41.4,406.3 57.4,402.3 74.4,389.3 90.4,386.6 107.4,383.2 123.3,372.0 140.4,370.4 157.4,382.1 173.4,378.3 190.4,379.4 206.4,382.5 223.4,378.7 239.3,364.1 256.4,355.2 273.4,346.2 289.6,354.0 306.4,353.6 322.6,357.4 339.5,351.8 356.6,356.3 372.3,355.2 389.6,350.7 405.5,354.0 422.5,374.2 438.5,412.4 455.0,443.0 472.3,472.0 488.5,501.0 505.5,511.6 521.5,480.0 538.3,452.5 555.4,423.6 571.3,394.4 588.6,372.0 604.5,351.8 621.4,336.8 637.4,352.2 654.4,367.2 671.6,382.1 687.5,428.0 704.5,490.0 720.4,522.8 737.4,539.3 754.4,554.4 770.6,531.0 787.6,488.5 803.5,446.0 820.4,422.0 836.4,389.6 853.4,368.4 870.6,372.2 886.6,385.6 903.3,393.8 919.8,426.7 936.2,429.4 953.5,418.5 969.7,407.5 986.4,388.3 1002.3,366.4 1019.6,379.3 1035.5,374.0 1052.5,356.8 1069.5,345.8 1085.4,334.3 1102.1,289.7 1118.6,272.0 1135.0,254.9" stroke="#ff8a14"/>
<polyline points="41.0,721.2 150.0,720.6 300.0,720.0 450.0,720.0 600.0,720.3 680.0,720.4 827.0,720.4 828.6,719.5 844.8,719.5 845.8,718.7 890.2,718.7 909.8,716.0 926.0,714.0 947.0,711.6 963.0,710.3 980.0,709.3 996.0,708.2 1013.0,707.5 1026.3,707.5 1027.3,706.5 1043.5,706.5 1044.5,705.4 1109.7,705.4 1110.7,704.6 1126.4,704.6 1128.4,703.3 1134.7,703.3" stroke="#c23cc8" stroke-width="1.1"/>
<polyline points="41.0,721.0 150.0,720.0 300.0,719.5 450.0,720.0 600.0,720.6 680.0,721.3 728.0,721.3 761.3,719.5 794.7,719.2 828.0,717.8 844.8,717.1 862.5,716.4 863.5,715.5 870.4,715.5 891.3,714.5 909.8,710.8 926.0,707.2 942.9,704.0 950.7,702.3 977.8,701.5 993.0,699.9 1020.0,699.4 1030.4,697.8 1039.8,697.3 1040.9,696.4 1047.6,696.4 1048.7,695.5 1054.4,695.5 1056.0,696.4 1061.7,697.3 1068.0,698.6 1074.2,699.9 1079.4,701.5 1084.7,703.0 1090.9,704.6 1097.2,705.1 1110.7,705.1 1111.8,706.1 1126.4,706.1 1127.4,705.4 1134.7,705.4" stroke="#ff8a14" stroke-width="1.1"/>
<polyline points="41.0,720.5 74.0,720.3 100.0,720.2 123.0,719.3 150.0,718.9 223.0,719.0 256.0,718.3 290.0,718.5 340.0,719.6 373.0,720.3 420.0,719.8 456.0,719.0 490.0,718.2 522.0,719.3 560.0,720.8 620.0,721.0 660.0,721.0 700.0,720.3 711.3,719.7 745.7,719.7 746.7,718.5 794.7,718.5 795.7,717.6 828.0,717.6 829.1,716.6 838.5,716.6 839.5,715.5 844.8,715.5 845.8,714.5 851.0,714.5 852.0,713.4 877.0,713.4 887.1,711.9 901.7,708.2 909.8,704.0 919.4,698.8 930.1,696.2 942.9,693.6 957.5,691.3 968.4,690.5 979.9,692.6 993.0,696.2 1000.8,699.2 1016.4,702.5 1039.8,702.5 1040.9,701.5 1047.6,701.5 1048.7,700.2 1054.9,700.2 1056.0,701.5 1061.7,702.5 1066.9,704.0 1072.1,705.1 1078.4,706.1 1083.6,707.4 1090.9,708.4 1098.2,709.3 1110.7,710.5 1134.7,710.5" stroke="#ffffff" stroke-width="1.1"/>
<rect x="1129.5" y="692.5" width="12" height="9" stroke="#f0bc00" stroke-dasharray="3 2" stroke-width="1" shape-rendering="crispEdges"/>
<g stroke="#d0d0d0" stroke-width="1"><path d="M880 124.5H903M898 119.5l5.500 5l-5.500 5"/><path d="M681 624.5H704M699 619.5l5.500 5l-5.500 5"/></g>
<g stroke="#3c3e44" stroke-width="1" shape-rendering="crispEdges"><path d="M35 728.5H1271"/>
<path d="M57.5 729V734"/>
<path d="M107.5 729V734"/>
<path d="M190.5 729V734"/>
<path d="M273.5 729V734"/>
<path d="M356.5 729V734"/>
<path d="M521.5 729V734"/>
<path d="M604.5 729V734"/>
<path d="M754.5 729V734"/>
<path d="M836.5 729V734"/>
<path d="M919.5 729V734"/>
<path d="M1002.5 729V734"/>
<path d="M1085.5 729V734"/>
<path d="M41.5 729V749"/>
<path d="M438.5 729V749"/>
<path d="M671.5 729V749"/>
<path d="M1035.5 729V749"/>
</g>
</svg>
<div class="t l gy" style="left:1180px;top:140.7px;letter-spacing:-0.75px">1.090</div>
<div class="t l gy" style="left:1180px;top:236.7px;letter-spacing:-0.75px">1.060</div>
<div class="t l gy" style="left:1180px;top:333.7px;letter-spacing:-0.75px">1.030</div>
<div class="t l gy" style="left:1180px;top:430.7px;letter-spacing:-0.75px">1.000</div>
<div class="t l gy" style="left:1180px;top:527.7px;letter-spacing:-0.75px">0.970</div>
<div class="t l gy" style="left:1180px;top:611.7px;letter-spacing:-0.75px">0.940</div>
<div class="t l gy" style="left:1179px;top:697.5px">0</div>
<div class="t l r" style="left:827px;top:111.5px;letter-spacing:-0.75px">1.099</div>
<div class="t l g" style="left:628px;top:611px;letter-spacing:-0.75px">0.944</div>
<div style="position:absolute;left:34px;top:641px;width:1237px;height:1px;background:#34363c"></div>
<div style="position:absolute;left:34px;top:672px;width:1237px;height:1px;background:#34363c"></div>
<div class="t l" style="left:36.5px;top:642.5px;color:#f4f4f4;letter-spacing:-0.3px">AMO: 7093<span class="c">万</span></div>
<div class="t l" style="left:174px;top:642.5px;color:#f4f4f4;letter-spacing:-0.3px">MA(5): 6964<span class="c">万</span></div>
<div class="t l" style="left:320.5px;top:642.5px;color:#ff8a14;letter-spacing:-0.3px">MA(10): 8482<span class="c">万</span></div>
<div class="t l" style="left:479.5px;top:642.5px;color:#c23cc8;letter-spacing:-0.3px">MA(20): 8651<span class="c">万</span></div>
<div class="t l gy" style="left:44px;top:730.5px;letter-spacing:0.3px">25-12</div>
<div class="t l gy" style="left:441px;top:730.5px;letter-spacing:0.3px">26-02</div>
<div class="t l gy" style="left:674px;top:730.5px;letter-spacing:0.3px">26-03</div>
<div class="t l gy" style="left:1038.5px;top:730.5px;letter-spacing:0.3px">26-04</div>
<div style="position:absolute;left:34px;top:761px;width:1237px;height:41px;background:#050608"></div>
<div class="btab c" style="left:34px;width:101px;padding-left:12px;background:#5a5a68">成交额</div>
<div class="btab c" style="left:148px;width:101px;padding-left:12px;background:#202126">市盈率</div>
<div class="btab c" style="left:262px;width:101px;padding-left:12px;background:#202126">市净率</div>
<div class="btab l" style="left:376px;width:90px;padding-left:12px;background:#202126">BOLL</div>
<div class="btab l" style="left:479px;width:75px;padding-left:12px;background:#202126">KDJ</div>
<div class="btab l" style="left:567px;width:105px;padding-left:12px;background:#202126">MACD</div>
<div class="btab l" style="left:685px;width:69px;padding-left:12px;background:#202126">RSI</div>
<div class="btab l" style="left:767px;width:79px;padding-left:12px;background:#202126">SAR</div>
<div class="btab l" style="left:859px;width:91px;padding-left:12px;background:#202126">W&amp;R</div>
<div class="btab c" style="left:963px;width:164px;padding-left:12px;background:#202126">基金份额变动</div>
<div class="btab c" style="left:1140px;width:44px;padding-left:0px;background:#202126"></div>
<div class="btab c" style="left:1185px;width:86px;padding-left:0px;background:#202126"></div>
<svg style="position:absolute;left:1140px;top:762px" width="44" height="39" fill="none" stroke="#b0b0b0" stroke-width="1.5"><rect x="9.5" y="7.5" width="25" height="25"/><path d="M22 12v16M14 20h16"/></svg><svg style="position:absolute;left:1275px;top:318px" width="16" height="168"><path d="M0 2.700L15 10.500V155.500L0 163.500z" fill="#222227"/><path d="M3 79.500l4 5-4 5M8 79.500l4 5-4 5" fill="none" stroke="#b8b8b8" stroke-width="1"/></svg>
<div class="t" style="left:1302px;top:6px;height:40px;line-height:40px;font-size:27px;letter-spacing:0.4px;font-weight:bold;color:#f4f4f4">港股通汽车ETF汇添富</div>
<div class="t" style="right:7px;top:4px;height:40px;line-height:40px;font-size:32.5px;letter-spacing:0.4px;color:#b4b6ba">159210</div>
<div class="t" style="left:1299px;top:40px;height:64px;line-height:64px;font-size:55px;font-weight:bold;color:#ff2d37">1.077</div>
<div class="t" style="right:7px;top:55px;height:34px;line-height:34px;font-size:27px;letter-spacing:0.7px;font-weight:bold;color:#ff2d37">+0.017<span style="display:inline-block;width:16px"></span>+1.60%</div>
<div class="t l " style="left:1298.5px;top:96.8px;color:#9aa0aa;font-size:20px;letter-spacing:-1.2px">SZSE</div>
<div class="t l " style="left:1357px;top:96.8px;color:#9aa0aa;font-size:20px;letter-spacing:-0.2px">CNY</div>
<div class="t l " style="left:1411px;top:96.8px;color:#9aa0aa;font-size:20px;letter-spacing:0.6px">11:23:42</div>
<div class="t c " style="left:1504.5px;top:97.5px;color:#9aa0aa;font-size:20px;letter-spacing:0">交易中</div>
<div class="t l " style="left:1794px;top:96.8px;color:#b4b6ba;font-size:20px;letter-spacing:0.8px">T+0</div>
<svg style="position:absolute;left:1840px;top:100px" width="76" height="20" viewBox="0 0 76 20" fill="none">
<rect x="1.2" y="1.2" width="17.8" height="17.6" rx="2" fill="#27282e"/><path d="M4.6 15.4l1-3.6 6.4-6.4 2.6 2.6-6.4 6.4z" fill="#35c3de"/><path d="M12.7 4.700l1-1a.9.9 0 0 1 1.300 0l1.300 1.300a.9.9 0 0 1 0 1.300l-1 1z" fill="#35c3de"/>
<rect x="28.500" y="1.500" width="17" height="17" stroke="#4b4c50" fill="#1a1c21"/><path d="M37 3.800c-3.200 0-4.600 2.400-4.600 5.200v3.400l-1.600 2h12.400l-1.600-2V9c0-2.800-1.400-5.200-4.600-5.200zM35.600 15.800a1.400 1.400 0 0 0 2.800 0" stroke="#3468a8" stroke-width="1.300"/>
<rect x="55.500" y="1.500" width="17" height="17" stroke="#4b4c50" fill="#1a1c21"/><path d="M64 4v12M58 10h12" stroke="#3d8be2" stroke-width="3.200"/>
</svg>
<div style="position:absolute;left:1290px;top:119px;width:628px;height:1px;background:#050608"></div>
<div style="position:absolute;left:1290px;top:120px;width:628px;height:2px;background:#2b2c32"></div>
<div style="position:absolute;left:1290px;top:122px;width:628px;height:2px;background:#050608"></div>
<div style="position:absolute;left:1912px;top:124px;width:2px;height:678px;background:#050608"></div>
<div style="position:absolute;left:1914px;top:124px;width:4px;height:678px;background:#26272c"></div>
<div class="t c " style="left:1299px;top:125.5px;color:#c9cbcf;">净值走势</div>
<div class="t l " style="right:16px;top:124.80000000000001px;color:#e0e0e0;"><span class="c" style="position:relative;top:0.7px">汇添富中证港股通汽车产业主题</span>ETF</div>
<div style="position:absolute;left:1290px;top:153px;width:622px;height:1px;background:#34363c"></div>
<div class="t c " style="left:1299px;top:156.3px;color:#c9cbcf;">委比</div>
<div class="t l " style="right:325px;top:155.60000000000002px;color:#ff2d37;">7.53%</div>
<div class="t c " style="left:1605px;top:156.3px;color:#c9cbcf;">委差</div>
<div class="t l " style="right:16px;top:155.60000000000002px;color:#ff2d37;">3286</div>
<div style="position:absolute;left:1290px;top:183px;width:622px;height:1px;background:#34363c"></div>
<div class="t c " style="left:1299px;top:188.2px;color:#c9cbcf;">卖五</div>
<div class="t l " style="right:278px;top:187.5px;color:#ff2d37;">1.082</div>
<div class="t l " style="right:16px;top:187.5px;color:#f0f0f0;">342</div>
<div class="t c " style="left:1299px;top:217.0px;color:#c9cbcf;">卖四</div>
<div class="t l " style="right:278px;top:216.3px;color:#ff2d37;">1.081</div>
<div class="t l " style="right:16px;top:216.3px;color:#f0f0f0;">1558</div>
<div class="t c " style="left:1299px;top:245.8px;color:#c9cbcf;">卖三</div>
<div class="t l " style="right:278px;top:245.10000000000002px;color:#ff2d37;">1.080</div>
<div class="t l " style="right:16px;top:245.10000000000002px;color:#f0f0f0;">6849</div>
<div class="t c " style="left:1299px;top:274.6px;color:#c9cbcf;">卖二</div>
<div class="t l " style="right:278px;top:273.90000000000003px;color:#ff2d37;">1.079</div>
<div class="t l " style="right:16px;top:273.90000000000003px;color:#f0f0f0;">11306</div>
<div class="t c " style="left:1299px;top:303.40000000000003px;color:#c9cbcf;">卖一</div>
<div class="t l " style="right:278px;top:302.70000000000005px;color:#ff2d37;">1.078</div>
<div class="t l " style="right:16px;top:302.70000000000005px;color:#f0f0f0;">135</div>
<div style="position:absolute;left:1290px;top:332px;width:622px;height:1px;background:#6a6c72"></div>
<div class="t c " style="left:1299px;top:337.4px;color:#c9cbcf;">买一</div>
<div class="t l " style="right:278px;top:336.7px;color:#ff2d37;">1.077</div>
<div class="t l " style="right:16px;top:336.7px;color:#f0f0f0;">5706</div>
<div class="t c " style="left:1299px;top:366.34999999999997px;color:#c9cbcf;">买二</div>
<div class="t l " style="right:278px;top:365.65px;color:#ff2d37;">1.076</div>
<div class="t l " style="right:16px;top:365.65px;color:#f0f0f0;">7459</div>
<div class="t c " style="left:1299px;top:395.29999999999995px;color:#c9cbcf;">买三</div>
<div class="t l " style="right:278px;top:394.59999999999997px;color:#ff2d37;">1.075</div>
<div class="t l " style="right:16px;top:394.59999999999997px;color:#f0f0f0;">8950</div>
<div class="t c " style="left:1299px;top:424.24999999999994px;color:#c9cbcf;">买四</div>
<div class="t l " style="right:278px;top:423.54999999999995px;color:#ff2d37;">1.074</div>
<div class="t l " style="right:16px;top:423.54999999999995px;color:#f0f0f0;">1181</div>
<div class="t c " style="left:1299px;top:453.19999999999993px;color:#c9cbcf;">买五</div>
<div class="t l " style="right:278px;top:452.49999999999994px;color:#ff2d37;">1.073</div>
<div class="t l " style="right:16px;top:452.49999999999994px;color:#f0f0f0;">180</div>
<div style="position:absolute;left:1290px;top:483px;width:622px;height:1px;background:#34363c"></div>
<div class="t c " style="left:1299px;top:485.7px;color:#c9cbcf;">总量</div>
<div class="t l " style="right:325px;top:485.0px;color:#f0f0f0;">94.37<span class="c" style="position:relative;top:0.7px">万</span></div>
<div class="t c " style="left:1605px;top:485.7px;color:#c9cbcf;">换手</div>
<div class="t l " style="right:16px;top:485.0px;color:#f0f0f0;">110.06%</div>
<div class="t c " style="left:1299px;top:515.73px;color:#c9cbcf;">现手</div>
<div class="t l " style="right:325px;top:515.03px;color:#f0f0f0;">14</div>
<div class="t c " style="left:1605px;top:515.73px;color:#c9cbcf;">量比</div>
<div class="t l " style="right:16px;top:515.03px;color:#f0f0f0;">3.29</div>
<div class="t c " style="left:1299px;top:545.76px;color:#c9cbcf;">外盘</div>
<div class="t l " style="right:325px;top:545.06px;color:#ff2d37;">48.57<span class="c" style="position:relative;top:0.7px">万</span></div>
<div class="t c " style="left:1605px;top:545.76px;color:#c9cbcf;">内盘</div>
<div class="t l " style="right:16px;top:545.06px;color:#1fba52;">45.80<span class="c" style="position:relative;top:0.7px">万</span></div>
<div class="t c " style="left:1299px;top:575.79px;color:#c9cbcf;">总额</div>
<div class="t l " style="right:325px;top:575.0899999999999px;color:#f0f0f0;">1.02<span class="c" style="position:relative;top:0.7px">亿</span></div>
<div class="t c " style="left:1605px;top:575.79px;color:#c9cbcf;">振幅</div>
<div class="t l " style="right:16px;top:575.0899999999999px;color:#f0f0f0;">2.83%</div>
<div class="t c " style="left:1299px;top:605.8199999999999px;color:#c9cbcf;">均价</div>
<div class="t l " style="right:325px;top:605.1199999999999px;color:#ff2d37;">1.085</div>
<div class="t c " style="left:1605px;top:605.8199999999999px;color:#c9cbcf;">开盘</div>
<div class="t l " style="right:16px;top:605.1199999999999px;color:#ff2d37;">1.065</div>
<div class="t c " style="left:1299px;top:635.8499999999999px;color:#c9cbcf;">最高</div>
<div class="t l " style="right:325px;top:635.1499999999999px;color:#ff2d37;">1.095</div>
<div class="t c " style="left:1605px;top:635.8499999999999px;color:#c9cbcf;">最低</div>
<div class="t l " style="right:16px;top:635.1499999999999px;color:#ff2d37;">1.065</div>
<div class="t c " style="left:1299px;top:665.8799999999999px;color:#c9cbcf;">涨停</div>
<div class="t l " style="right:325px;top:665.1799999999998px;color:#ff2d37;">1.166</div>
<div class="t c " style="left:1605px;top:665.8799999999999px;color:#c9cbcf;">跌停</div>
<div class="t l " style="right:16px;top:665.1799999999998px;color:#1fba52;">0.954</div>
<div style="position:absolute;left:1290px;top:694px;width:622px;height:1px;background:#34363c"></div>
<div class="t l " style="left:1299px;top:695.0px;color:#c9cbcf;">IOPV</div>
<div class="t l " style="right:329px;top:695.0px;color:#f0f0f0;">1.0782</div>
<div class="t c " style="left:1609px;top:695.7px;color:#c9cbcf;">溢折率</div>
<div class="t l " style="right:17px;top:695.0px;color:#1fba52;">-0.11%</div>
<div class="t c " style="left:1299px;top:725.8px;color:#c9cbcf;">净值</div>
<div class="t l " style="right:329px;top:725.0999999999999px;color:#1fba52;">1.0661</div>
<div class="t c " style="left:1609px;top:725.8px;color:#c9cbcf;">升贴水率</div>
<div class="t l " style="right:17px;top:725.0999999999999px;color:#ff2d37;">1.02%</div>
<div class="t c " style="left:1299px;top:754.3px;color:#c9cbcf;">溢汇率</div>
<div class="t l " style="right:329px;top:753.5999999999999px;color:#f0f0f0;">0.02%</div>
<div class="t c " style="left:1609px;top:754.3px;color:#c9cbcf;">溢汇估</div>
<div class="t l " style="right:17px;top:753.5999999999999px;color:#f0f0f0;">0.0%</div>
<div style="position:absolute;left:1290px;top:761px;width:621px;height:41px;background:#222328"></div>
<div style="position:absolute;left:1291px;top:761px;width:68px;height:39px;background:#5a5a68"></div>
<div class="t c " style="left:1302px;top:768px;color:#f4f4f4;">盘口</div>
<div class="t c " style="left:1372px;top:768px;color:#e0e0e0;">基本</div>
</div></body></html>
